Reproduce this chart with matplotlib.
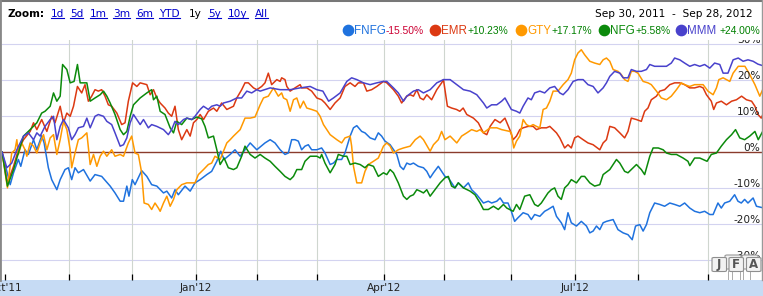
import matplotlib
matplotlib.use('Agg')
import matplotlib.pyplot as plt
from matplotlib.lines import Line2D
from matplotlib.patches import Rectangle, FancyBboxPatch

plt.rcParams['font.family'] = 'DejaVu Sans'

###--- Data: trading day since Sep 30 2011, % change ---###
fnfg = [(0, 0), (2.7, -9.1), (3.8, -5.8), (5.4, -2.1), (6.2, -4.0), (7.6, 0.6), (8.7, -0.7), (10.4, 3.4),
        (11.5, 0.6), (13.1, 4.5), (13.9, 2.5), (15.3, -4.4), (16.4, -7.7), (18.1, -10.5), (19.2, -7.7),
        (20.8, -4.9), (21.9, -4.4), (23.0, -7.7), (24.1, -4.4), (25.2, -5.8), (26.9, -4.9), (29.1, -8.1),
        (30.7, -6.3), (32.9, -6.8), (35.7, -9.5), (37.3, -11.4), (39.0, -13.7), (40.1, -13.7), (41.2, -9.5),
        (41.9, -12.3), (43.0, -7.7), (43.9, -9.1), (46.1, -5.2), (47.8, -6.8), (49.4, -9.1), (51.1, -9.5),
        (53.3, -11.4), (54.4, -10.9), (56.0, -12.8), (57.1, -10.5), (58.2, -11.9), (60.4, -9.5), (62.1, -10.9),
        (63.7, -8.6), (65.4, -7.7), (67.6, -6.3), (69.2, -5.4), (70.9, -2.6), (72.2, 0.2), (73.3, -2.1),
        (75.3, -0.7), (76.9, 0.6), (78.6, -1.2), (81.9, 2.5), (84.1, 0.6), (86.8, 2.5), (88.5, 3.4), (90.1, 2.5),
        (91.8, 0.6), (93.4, -0.7), (94.5, -0.3), (95.6, 3.4), (96.7, 3.4), (97.8, 3.0), (98.9, 0.6), (100.0, 1.6),
        (101.1, 2.0), (102.2, 0.6), (103.9, 0.6), (105.5, 1.1), (106.6, -0.3), (108.3, -3.5), (109.4, -3.1),
        (110.5, -2.1), (112.1, -2.1), (113.2, -0.3), (114.9, 4.4), (116.0, 6.7), (117.1, 7.3), (118.7, 5.7),
        (119.8, 5.3), (121.5, 3.9), (123.1, 3.4), (124.2, 5.3), (125.3, 4.4), (126.4, 3.0), (128.1, 2.0),
        (130.3, -0.7), (131.4, -4.0), (132.5, -4.9), (133.6, -3.1), (134.7, -3.5), (135.8, -3.1), (137.4, -4.0),
        (139.1, -4.4), (140.2, -5.4), (141.3, -7.2), (142.4, -5.8), (144.0, -4.0), (145.1, -5.4), (146.2, -6.8),
        (147.3, -7.2), (148.4, -8.6), (149.5, -10.0), (150.6, -8.6), (152.3, -10.0), (153.9, -8.6), (155.0, -10.5),
        (156.7, -11.9), (158.9, -14.2), (160.5, -13.7), (161.6, -14.2), (163.3, -13.7), (164.4, -12.8),
        (165.5, -14.2), (167.0, -14.2), (168.1, -16.5), (169.2, -19.3), (170.3, -18.3), (172.0, -16.9),
        (173.6, -17.4), (174.7, -18.8), (175.8, -17.4), (177.5, -17.9), (179.1, -16.5), (180.2, -16.0),
        (181.9, -15.1), (183.0, -17.9), (184.6, -19.7), (185.7, -21.6), (186.8, -16.9), (187.9, -19.7),
        (189.6, -20.6), (191.2, -19.3), (192.9, -20.6), (194.0, -22.5), (195.1, -22.0), (196.2, -20.6),
        (197.3, -21.6), (198.4, -19.7), (199.5, -19.3), (201.7, -18.8), (203.3, -21.6), (205.0, -22.5),
        (206.6, -23.0), (208.0, -24.4), (209.1, -20.6), (210.5, -20.2), (211.6, -22.0), (212.7, -20.2),
        (213.8, -16.9), (215.4, -14.2), (217.1, -14.6), (218.7, -15.1), (220.4, -14.2), (222.0, -14.6),
        (223.7, -15.1), (225.3, -14.2), (227.0, -15.6), (228.6, -16.5), (230.3, -16.9), (231.9, -16.5),
        (233.6, -17.4), (234.7, -17.4), (236.3, -14.2), (237.4, -15.6), (238.5, -14.2), (240.2, -13.7),
        (241.8, -11.9), (242.9, -13.7), (244.0, -14.2), (245.1, -13.2), (246.2, -14.2), (247.9, -12.8),
        (249.0, -15.1), (251, -15.5)]

emr = [(0, 0), (1.8, -8.6), (3.8, -4.0), (5.4, 0.6), (7.1, 3.4), (9.3, 5.7), (10.4, 8.1), (11.5, 6.2), (13.1, 9.0),
       (14.8, 5.7), (16.4, 9.9), (17.5, 8.1), (19.2, 12.7), (20.3, 8.1), (21.4, 10.8), (22.5, 9.9), (23.6, 12.7),
       (24.9, 18.2), (26.3, 16.4), (27.4, 18.7), (28.5, 14.1), (29.6, 15.5), (30.7, 17.3), (31.8, 16.9),
       (32.9, 17.3), (34.0, 15.5), (35.1, 13.1), (36.2, 12.7), (37.9, 10.8), (39.5, 7.6), (40.6, 8.1),
       (41.7, 14.1), (43.1, 19.2), (44.5, 18.2), (45.6, 19.2), (47.8, 18.7), (48.9, 15.9), (50.0, 17.3),
       (51.1, 15.0), (52.2, 13.6), (53.8, 12.2), (54.9, 10.8), (56.0, 9.9), (57.1, 12.7), (58.2, 6.2), (59.3, 3.4),
       (61.0, 6.2), (62.1, 4.4), (63.2, 8.1), (64.3, 9.0), (65.4, 10.4), (66.5, 9.0), (68.1, 11.3), (69.8, 12.2),
       (70.9, 11.3), (72.5, 13.6), (74.2, 11.8), (76.4, 12.7), (77.5, 15.0), (79.1, 17.3), (80.2, 19.2),
       (81.3, 19.2), (83.0, 17.8), (84.1, 17.3), (85.7, 18.2), (86.8, 19.2), (87.9, 21.9), (89.0, 18.7),
       (90.7, 20.1), (91.8, 19.6), (92.3, 20.6), (93.4, 20.1), (94.0, 18.2), (95.1, 16.9), (96.7, 17.8),
       (98.4, 18.7), (98.9, 17.8), (100.6, 17.8), (102.2, 16.9), (103.9, 15.0), (105.5, 14.5), (106.6, 13.6),
       (108.3, 11.8), (109.9, 13.6), (111.6, 15.0), (113.2, 18.2), (114.9, 19.2), (116.5, 18.2), (117.6, 19.2),
       (119.3, 19.2), (120.4, 16.9), (122.0, 17.3), (123.7, 18.2), (125.9, 19.6), (127.0, 19.2), (129.2, 17.3),
       (130.8, 15.5), (131.9, 13.6), (133.6, 15.5), (134.7, 15.9), (135.8, 15.5), (136.9, 17.3), (138.0, 15.0),
       (139.1, 14.5), (140.2, 15.9), (141.8, 14.5), (143.5, 17.3), (145.1, 19.2), (145.7, 20.1), (147.0, 12.7),
       (148.4, 12.2), (150.0, 11.8), (151.1, 11.3), (152.2, 12.2), (153.4, 10.4), (155.6, 9.4), (157.2, 8.1),
       (158.9, 5.3), (160.0, 4.8), (161.1, 7.1), (162.7, 9.0), (164.4, 8.1), (166.0, 9.4), (167.6, 6.2),
       (168.7, 3.4), (169.8, 4.4), (170.9, 6.2), (172.0, 6.7), (173.6, 7.1), (175.3, 7.1), (176.4, 6.2),
       (178.0, 6.7), (179.7, 6.7), (180.8, 7.1), (181.9, 6.2), (183.0, 5.3), (184.1, 3.9), (185.7, 1.1),
       (186.8, 2.0), (187.9, 1.1), (189.0, 3.9), (190.1, 4.4), (191.8, 3.4), (193.4, 2.5), (195.1, 2.0),
       (197.3, 0.6), (198.4, 2.5), (199.5, 3.4), (200.6, 7.1), (202.2, 6.7), (203.9, 5.3), (205.5, 3.9),
       (206.6, 5.7), (207.7, 9.4), (209.4, 9.0), (211.0, 8.5), (212.1, 11.3), (213.2, 12.2), (214.3, 14.5),
       (216.0, 15.5), (217.1, 16.9), (218.7, 17.3), (220.4, 18.7), (222.0, 19.2), (223.7, 19.2), (225.3, 18.7),
       (227.0, 17.8), (228.6, 17.8), (230.3, 18.2), (231.4, 17.8), (232.5, 15.9), (234.1, 14.1), (234.9, 11.8),
       (235.8, 13.6), (237.4, 14.1), (239.1, 13.1), (240.8, 14.1), (242.4, 14.5), (244.1, 15.5), (245.7, 14.5),
       (247.4, 14.1), (248.5, 12.7), (249.5, 10.4), (250.6, 9.4), (251, 10.2)]

gty = [(0, 0), (1.8, -10.0), (3.2, -0.3), (4.3, 0.6), (4.9, 3.4), (5.4, -0.7), (6.5, 2.5), (7.6, 0.6), (8.2, -1.2),
       (9.3, 2.5), (10.4, 1.6), (11.5, -0.3), (12.6, 2.5), (13.7, 4.8), (14.8, 0.6), (15.9, 3.9), (17.0, 4.8),
       (18.1, -0.7), (19.2, 3.4), (20.3, 8.5), (21.4, 6.2), (22.5, 0.6), (23.0, -4.4), (24.1, -0.3), (25.2, 3.4),
       (26.3, 3.9), (28.0, 5.3), (29.1, -3.5), (30.2, -0.7), (31.3, -4.0), (32.4, -1.2), (33.5, 0.2), (34.6, -1.2),
       (36.2, 0.6), (37.3, -1.2), (39.0, -0.7), (40.1, -1.2), (41.7, 2.5), (42.8, 4.4), (43.9, -0.3), (45.0, -0.7),
       (46.1, -5.8), (46.9, -14.2), (48.3, -14.6), (49.4, -16.0), (50.5, -14.2), (51.6, -15.6), (52.2, -16.5),
       (53.3, -14.2), (54.4, -12.3), (55.5, -15.1), (56.6, -13.2), (57.7, -10.5), (59.3, -9.1), (61.0, -8.6),
       (62.6, -8.6), (63.7, -8.6), (64.8, -6.3), (66.5, -4.9), (68.1, -3.5), (69.2, -3.1), (70.3, -1.2),
       (72.0, -2.1), (74.2, 2.5), (75.3, 3.4), (76.4, 4.4), (78.6, 6.2), (80.2, 9.4), (81.9, 9.4), (83.5, 9.7),
       (85.2, 13.1), (86.3, 15.0), (87.9, 15.5), (89.6, 17.8), (91.2, 15.5), (92.3, 16.4), (92.9, 15.0),
       (94.0, 14.5), (95.1, 11.3), (96.2, 14.5), (97.3, 15.0), (98.4, 12.2), (99.5, 14.1), (100.6, 12.2),
       (102.2, 11.8), (103.9, 11.3), (105.0, 9.9), (106.1, 7.6), (108.3, 4.8), (110.5, 3.4), (112.1, 2.5),
       (113.2, 3.9), (114.9, 4.4), (115.4, 1.6), (116.0, -4.0), (117.1, -8.6), (118.7, -8.6), (119.8, -5.4),
       (120.9, -3.5), (122.6, -2.6), (124.2, -1.7), (125.9, 1.6), (127.0, 2.5), (128.1, 1.6), (129.2, -0.3),
       (130.8, 0.6), (132.5, 1.1), (134.7, 1.6), (136.4, 3.4), (138.0, 4.4), (139.1, 3.4), (141.3, 0.2),
       (142.4, 2.0), (144.0, 3.4), (145.1, 5.7), (146.2, 3.4), (147.9, 4.4), (150.1, 2.5), (151.7, 4.4),
       (153.4, 5.3), (155.0, 6.2), (156.7, 5.7), (157.8, 6.2), (158.9, 5.3), (161.1, 6.7), (163.3, 6.7),
       (164.9, 6.2), (167.6, 5.7), (168.1, 5.3), (168.9, 1.1), (169.8, 3.0), (170.9, 4.4), (172.0, 9.0),
       (173.1, 7.6), (174.2, 7.1), (175.3, 7.6), (176.4, 7.1), (177.5, 6.7), (178.6, 11.8), (179.7, 12.2),
       (180.8, 14.1), (181.9, 16.9), (183.5, 16.9), (185.2, 18.7), (186.8, 20.1), (187.9, 21.9), (189.0, 25.6),
       (190.1, 27.5), (191.2, 28.4), (192.3, 27.0), (194.0, 25.2), (195.6, 24.7), (197.3, 24.3), (198.4, 25.6),
       (199.5, 26.1), (200.6, 25.2), (201.7, 22.9), (203.3, 22.4), (204.4, 21.5), (205.5, 20.1), (206.6, 19.6),
       (207.7, 22.4), (208.8, 22.4), (209.9, 21.9), (211.6, 19.6), (213.2, 19.2), (214.3, 18.7), (216.0, 16.9),
       (217.6, 15.0), (219.3, 14.5), (220.9, 15.5), (222.6, 17.3), (224.2, 19.2), (225.3, 18.7), (227.0, 18.2),
       (228.6, 18.7), (230.3, 18.7), (231.4, 18.7), (233.0, 16.9), (234.7, 15.9), (235.8, 17.8), (236.6, 20.1),
       (238.0, 20.6), (240.2, 19.6), (241.3, 21.9), (243.0, 23.8), (244.1, 23.8), (245.2, 23.8), (246.8, 21.5),
       (248.5, 18.7), (250.1, 15.5), (251, 17.2)]

nfg = [(0, 0), (1.8, -9.5), (3.8, -4.9), (5.4, -0.3), (7.1, 4.4), (9.3, 6.2), (11.5, 8.1), (13.1, 10.8), (14.2, 11.3),
       (15.9, 12.7), (17.0, 16.4), (18.1, 14.1), (19.2, 15.5), (20.0, 24.3), (21.4, 22.9), (22.5, 19.2),
       (23.8, 19.6), (24.9, 24.3), (25.8, 19.2), (28.0, 19.2), (29.1, 14.1), (30.7, 15.0), (32.4, 15.9),
       (33.5, 16.9), (34.6, 15.5), (35.7, 13.6), (37.3, 10.4), (39.0, 6.2), (40.1, 4.8), (41.2, 5.7), (42.3, 9.9),
       (43.4, 13.1), (45.6, 15.0), (47.8, 16.4), (49.4, 17.3), (50.0, 14.5), (51.1, 15.5), (52.2, 11.3),
       (53.8, 10.4), (55.5, 6.7), (56.6, 5.3), (57.7, 8.5), (59.3, 7.6), (61.0, 9.4), (62.6, 9.0), (64.3, 9.7),
       (65.9, 9.2), (67.0, 7.1), (68.1, 3.9), (69.8, 4.4), (70.9, 0.6), (72.0, -3.5), (73.3, -1.7), (74.7, -4.4),
       (76.4, -4.9), (77.5, -4.4), (79.1, -1.2), (80.2, 1.6), (81.9, -0.7), (83.5, -1.7), (85.2, -0.7),
       (86.8, -1.7), (88.5, -2.6), (90.1, -4.0), (91.8, -5.4), (93.4, -6.8), (95.1, -7.7), (96.2, -6.8),
       (97.3, -4.9), (98.9, -4.9), (100.0, -2.6), (101.7, -1.2), (103.9, -1.2), (105.0, -1.7), (105.5, -0.7),
       (106.6, -3.1), (108.3, -5.8), (109.9, -3.5), (111.0, -0.7), (112.7, -1.2), (113.8, -1.2), (114.9, -3.5),
       (116.5, -3.1), (118.2, -3.5), (119.8, -4.4), (120.9, -3.5), (122.6, -4.0), (124.2, -6.8), (125.9, -5.8),
       (127.0, -6.3), (128.1, -4.9), (129.2, -5.8), (130.8, -8.6), (132.5, -12.3), (133.6, -13.2), (134.7, -12.3),
       (135.8, -11.9), (136.9, -10.5), (138.0, -10.9), (139.1, -11.4), (140.2, -10.5), (141.3, -12.3),
       (142.9, -10.5), (144.6, -8.6), (146.2, -7.2), (147.3, -6.8), (148.4, -9.5), (149.5, -10.0), (150.6, -8.6),
       (152.3, -10.0), (154.5, -10.9), (156.1, -11.9), (157.8, -14.2), (158.9, -16.0), (160.5, -16.0),
       (162.2, -15.1), (163.8, -16.0), (165.5, -14.6), (166.6, -15.6), (168.7, -16.5), (169.8, -14.6),
       (170.9, -16.0), (172.5, -12.3), (174.2, -11.9), (175.8, -14.6), (176.9, -15.1), (178.0, -14.2),
       (179.1, -12.8), (180.2, -11.4), (181.3, -10.5), (182.4, -10.0), (183.5, -12.3), (184.6, -13.2),
       (185.7, -10.0), (186.8, -9.1), (187.9, -7.7), (189.6, -8.6), (191.2, -6.8), (192.3, -6.8), (194.0, -8.6),
       (195.6, -9.5), (197.3, -9.1), (198.4, -6.3), (200.6, -4.9), (202.8, -2.1), (203.9, -3.1), (205.5, -5.4),
       (206.6, -5.8), (207.7, -4.9), (209.4, -3.5), (211.0, -4.9), (212.1, -6.3), (213.8, -1.2), (214.9, 1.1),
       (216.6, 1.1), (218.2, 0.6), (219.3, -0.3), (220.9, -0.7), (222.6, -0.7), (224.8, -1.7), (226.4, -2.6),
       (227.0, -3.8), (228.6, -1.7), (230.3, -1.7), (231.4, -2.1), (232.7, -2.6), (234.1, -0.7), (235.8, -0.3),
       (237.4, 1.6), (239.1, 3.4), (240.8, 4.8), (242.1, 6.2), (243.5, 3.9), (245.1, 3.4), (246.8, 4.4),
       (248.5, 5.7), (249.6, 3.4), (251, 5.6)]

mmm = [(0, 0), (1.6, -4.4), (3.2, -3.1), (4.9, 0.6), (7.1, 4.4), (8.7, 5.3), (10.4, 3.4), (11.5, 5.3), (12.6, 4.4),
       (14.2, 7.1), (15.9, 9.0), (17.0, 9.9), (18.1, 3.4), (19.2, 7.1), (20.3, 9.0), (21.9, 6.7), (23.0, 3.4),
       (24.1, 4.8), (25.2, 6.7), (26.9, 7.1), (28.0, 9.4), (29.1, 6.7), (30.7, 9.9), (31.8, 10.4), (33.5, 9.9),
       (34.6, 8.5), (36.2, 7.6), (37.3, 5.3), (39.0, 1.6), (40.1, 2.0), (41.2, 3.9), (42.3, 8.1), (43.4, 10.4),
       (44.5, 9.0), (45.6, 7.6), (46.7, 9.0), (48.3, 6.7), (49.4, 7.6), (51.1, 7.1), (53.3, 6.2), (54.9, 4.8),
       (56.0, 6.2), (57.1, 8.5), (58.2, 7.6), (59.9, 9.0), (61.0, 9.4), (62.6, 9.0), (63.7, 9.9), (65.4, 11.8),
       (66.5, 12.7), (68.1, 11.8), (69.2, 12.7), (70.9, 13.1), (72.0, 12.7), (73.1, 13.6), (75.3, 14.1),
       (77.5, 15.0), (79.1, 15.0), (80.8, 16.9), (82.4, 16.4), (84.1, 17.3), (85.2, 16.9), (88.5, 17.8),
       (91.8, 17.3), (95.1, 17.3), (98.4, 17.8), (101.7, 18.2), (103.9, 17.3), (105.9, 16.9), (107.8, 14.1),
       (109.4, 15.0), (111.6, 16.4), (113.8, 19.6), (115.4, 20.6), (117.1, 20.1), (119.3, 19.2), (121.5, 18.7),
       (123.7, 19.2), (125.9, 19.6), (127.0, 19.6), (129.2, 17.8), (130.8, 16.4), (132.5, 14.1), (133.6, 15.5),
       (135.8, 16.9), (137.4, 17.3), (139.1, 16.4), (141.3, 17.3), (143.5, 19.2), (145.7, 20.1), (147.9, 20.1),
       (150.1, 18.7), (152.3, 17.3), (154.5, 16.9), (156.7, 15.9), (158.9, 13.6), (160.0, 12.2), (161.6, 13.1),
       (163.3, 13.1), (164.9, 14.1), (166.0, 15.0), (168.1, 11.8), (169.8, 11.3), (170.9, 10.8), (172.0, 12.7),
       (173.6, 15.0), (174.7, 14.5), (175.8, 16.4), (177.5, 16.9), (179.1, 16.4), (180.8, 17.8), (182.4, 18.2),
       (184.1, 16.4), (185.2, 15.9), (186.8, 17.3), (188.5, 19.6), (190.1, 20.1), (191.8, 20.1), (193.4, 18.7),
       (195.1, 18.2), (196.7, 16.4), (198.4, 17.8), (199.5, 19.2), (200.6, 21.0), (202.2, 22.4), (203.9, 21.9),
       (205.0, 20.6), (206.6, 20.6), (207.7, 22.9), (209.4, 22.4), (211.0, 22.4), (212.7, 22.9), (213.8, 24.3),
       (215.4, 23.8), (217.6, 23.8), (219.3, 23.8), (220.9, 24.7), (222.0, 26.1), (223.7, 25.6), (225.3, 24.7),
       (227.0, 23.8), (228.6, 24.3), (230.3, 23.8), (231.9, 24.3), (233.6, 23.3), (235.2, 24.7), (236.9, 24.3),
       (238.0, 21.9), (239.6, 21.9), (241.3, 25.6), (243.0, 26.1), (244.6, 25.2), (246.2, 25.6), (247.9, 25.2),
       (249.5, 24.4), (251, 24.0)]

tickers = ['FNFG', 'EMR', 'GTY', 'NFG', 'MMM']
change_pct = [-15.50, 10.23, 17.17, 5.58, 24.00]
month_days = [1, 22, 43, 64, 84, 104, 126, 146, 168, 189, 210, 233]
month_labels = ["Oct'11", '', '', "Jan'12", '', '', "Apr'12", '', '', "Jul'12", '', '']
pct_ticks = [30, 20, 10, 0, -10, -20, -30]
zoom_links = ['1d', '5d', '1m', '3m', '6m', 'YTD', '1y', '5y', '10y', 'All']
date_range = 'Sep 30, 2011  -  Sep 28, 2012'
flag_letters = ['J', 'F', 'A']
flag_days = [239.6, 240.8, 243.6, 244.5, 246.9]

###--- Styling ---###
series = [fnfg, emr, gty, nfg, mmm]
colors = ['#1f72de', '#dc3912', '#ff9900', '#0b8a0b', '#4942cc']

W, H = 763, 296
fig = plt.figure(figsize=(W / 100, H / 100), dpi=100)


def fx(x):
    return x / W


def fy(y):
    return 1 - y / H


ax = fig.add_axes([fx(2), fy(280), (762.5 - 2) / W, (280 - 39.5) / H])
ax.set_xlim(0, 251)
ax.set_ylim(-35.6, 31.25)
for s in ax.spines.values():
    s.set_visible(False)

# grid
for v in pct_ticks:
    if v == 0:
        ax.axhline(0, color='#8a3b2c', lw=1.0, zorder=2)
    else:
        ax.axhline(v, color='#d3d3f0', lw=0.8, zorder=1)
for d in month_days[1:]:
    ax.axvline(d, color='#cfd6cf', lw=0.8, zorder=1)

for data, c in zip(series, colors):
    days = [p[0] for p in data]
    pcts = [p[1] for p in data]
    ax.plot(days, pcts, color=c, lw=1.1, zorder=3, solid_joinstyle='round')

# percent labels inside the right edge
for v in pct_ticks:
    ax.text(0.9974, v + 0.25, f'{v}%', transform=ax.get_yaxis_transform(), ha='right', va='baseline',
            fontsize=7.6, color='#222222', clip_on=True, zorder=4)

ax.set_xticks(month_days, month_labels)
ax.set_yticks([])
ax.tick_params(axis='x', direction='in', length=4, width=0.9, color='black', pad=2.5,
               labelsize=7.6, labelcolor='#222222')

# annotation flags (bottom right)
for d in flag_days:
    ax.plot([d, d], [0, 0.036], transform=ax.get_xaxis_transform(), color='#aaaaaa', lw=0.7, zorder=5)
for x0, y0 in [(725, 255), (742, 255)]:
    fig.add_artist(FancyBboxPatch((fx(x0), fy(y0 + 14)), fx(16), 14 / H, boxstyle='round,pad=0,rounding_size=0.003',
                                  transform=fig.transFigure, fc='#f2f2f2', ec='#999999', lw=0.8, zorder=6))
for letter, x0 in zip(flag_letters, [712, 729, 746.5]):
    fig.add_artist(FancyBboxPatch((fx(x0), fy(271.5)), fx(14.5), 14 / H, boxstyle='round,pad=0,rounding_size=0.003',
                                  transform=fig.transFigure, fc='#f2f2f2', ec='#8f8f8f', lw=0.8, zorder=7))
    fig.text(fx(x0 + 7.25), fy(264.5), letter, ha='center', va='center', fontsize=8.5, weight='bold',
             color='#555555', zorder=8)

# bottom date band and frame
fig.patches.append(Rectangle((0, 0), 1, 16 / H, transform=fig.transFigure, fc='#c6dbf4', ec='none', zorder=-1))
fig.add_artist(Line2D([0, 1], [1, 1], transform=fig.transFigure, color='#777777', lw=2.2))
fig.add_artist(Line2D([0, 0], [fy(280), 1], transform=fig.transFigure, color='#888888', lw=2.0))
fig.add_artist(Line2D([fx(762), fx(762)], [fy(280), 1], transform=fig.transFigure, color='#999999', lw=1.0))

# header: zoom links and date range
base = fy(17.3)
fig.text(fx(7), base, 'Zoom:', weight='bold', fontsize=7.6, va='baseline', color='black')
link_x = [51, 70, 90, 113, 136, 159, 189, 208, 228, 255]
link_texts = []
for lbl, x in zip(zoom_links, link_x):
    c = 'black' if lbl == '1y' else '#0000cc'
    t = fig.text(fx(x), base, lbl, fontsize=7.6, va='baseline', color=c)
    if lbl != '1y':
        link_texts.append(t)
fig.text(fx(753), base, date_range, ha='right', fontsize=7.6, va='baseline', color='black')

# legend row
dot_x = [348, 434.5, 520.5, 603.5, 680.5]
name_x = [354, 441, 527, 610, 687]
pct_x = [386, 468, 552, 635, 719]
for i, name in enumerate(tickers):
    fig.add_artist(Line2D([fx(dot_x[i])], [fy(30)], transform=fig.transFigure, marker='o', ms=7.4,
                          color=colors[i], linestyle='none'))
    fig.text(fx(name_x[i]), fy(34.3), name, color=colors[i], fontsize=8.4, family='Liberation Sans',
             va='baseline')
    p = change_pct[i]
    fig.text(fx(pct_x[i]), fy(34.3), f'{p:+.2f}%', color='#008000' if p >= 0 else '#cc0033', fontsize=7.4,
             family='Liberation Sans', va='baseline')

# underline the zoom links
fig.canvas.draw()
r = fig.canvas.get_renderer()
inv = fig.transFigure.inverted()
for t in link_texts:
    bb = t.get_window_extent(r)
    (x0, _), (x1, _) = inv.transform([(bb.x0, 0), (bb.x1, 0)])
    fig.add_artist(Line2D([x0, x1], [fy(18.2), fy(18.2)], transform=fig.transFigure, color='#0000cc', lw=0.8))

fig.savefig('out.png', dpi=100)
